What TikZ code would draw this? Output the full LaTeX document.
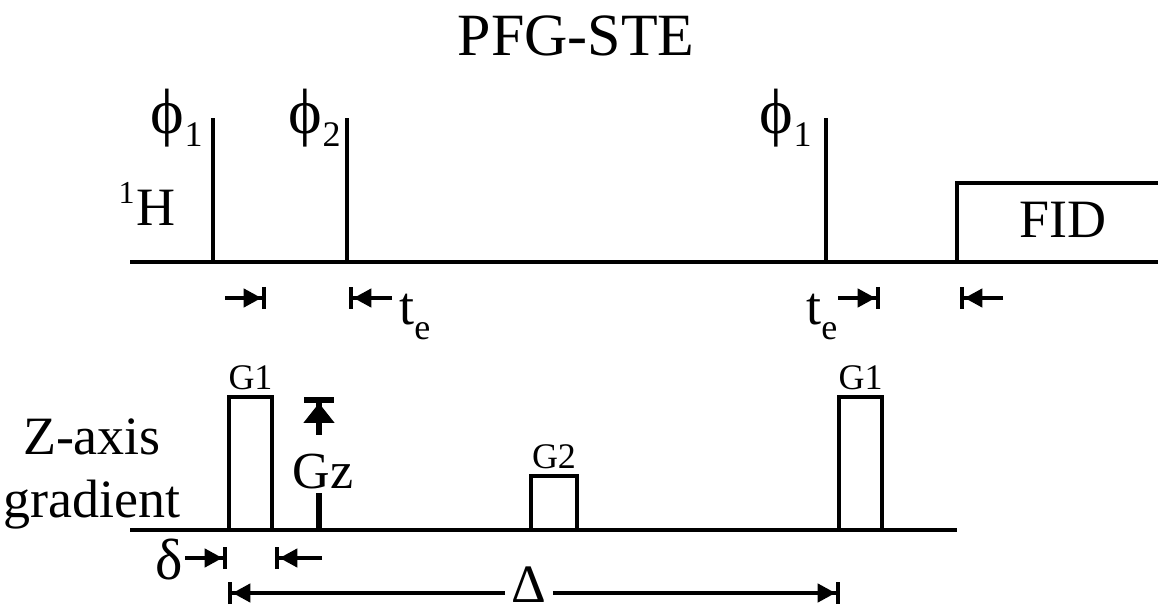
\documentclass[tikz,border=0pt]{standalone}
\usepackage{fontspec}
\setmainfont{Liberation Serif}
\usetikzlibrary{arrows.meta, positioning}

% phase label and echo time label
\newcommand{\phlab}[1]{{\fontsize{32}{32}\selectfont ϕ}\raisebox{-6.5pt}{\fontsize{18}{18}\selectfont #1}}
\newcommand{\telab}{t\raisebox{-7.5pt}{\fontsize{18}{18}\selectfont e}}

\begin{document}
\begin{tikzpicture}[x=0.5pt, y=-0.5pt,
    axisline/.style={line width=2pt},
    pulse/.style={line width=1.6pt},
    delay/.style={line width=2.2pt, -{Triangle[length=9pt,width=9pt,sep=0pt]Bar[width=11pt]}},
    biglbl/.style={font=\fontsize{27}{31.5}\selectfont, inner sep=0pt},
    glbl/.style={font=\fontsize{18}{20}\selectfont, inner sep=0pt}]
    \useasboundingbox (0,0) rectangle (1158,609);

    \node[font=\fontsize{30}{34}\selectfont, inner sep=0pt] (title) at (576,36) {PFG-STE};

    % 1H channel
    \coordinate (hL) at (130,262);
    \coordinate (hR) at (1158,262);
    \draw[axisline] (hL) -- (hR);
    \node[biglbl, anchor=base east] (hlab) at (176,226) {\raisebox{11pt}{\fontsize{16}{16}\selectfont 1}\kern1pt H};

    \foreach \x/\p/\n/\r in {213/1/a/203, 347/2/b/341, 826/1/c/812} {
        \draw[pulse] (\x,262) -- (\x,118);
        \node[biglbl, anchor=base east] (phi\n) at (\r,134) {\phlab{\p}};
    }

    % FID
    \draw[pulse] (957,262) |- (1158,183);
    \node[biglbl] (fid) at (1063,220) {FID};

    % delays
    \coordinate (dA) at (266,298);
    \coordinate (dB) at (349,298);
    \coordinate (dC) at (880,298);
    \coordinate (dD) at (960,298);
    \draw[delay] (225,298) -- (dA);
    \draw[delay] (392,298) -- (dB);
    \draw[delay] (838,298) -- (dC);
    \draw[delay] (1003,298) -- (dD);
    \node[biglbl, anchor=base west] (teA) at (399,325) {\telab};
    \node[biglbl, anchor=base west] (teB) at (806,325) {\telab};

    % gradient channel
    \coordinate (gL) at (130,530);
    \coordinate (gR) at (957,530);
    \draw[axisline] (gL) -- (gR);
    \node[biglbl, align=center, anchor=base] (zlab) at (92,517) {Z-axis\\gradient};

    \foreach \xa/\xb/\top/\lab/\n in {229/272/397/G1/a, 531/577/476/G2/b, 839/882/397/G1/c} {
        \draw[pulse] (\xa,530) |- (\xb,\top) -- (\xb,530);
        \node[glbl, anchor=base] (g\n) at ({(\xa+\xb)/2},\top-7) {\lab};
    }

    % Gz
    \coordinate (gzb) at (319,530);
    \coordinate (gzt) at (319,397);
    \node[font=\fontsize{26}{28}\selectfont, inner xsep=0pt, inner ysep=2.5pt,
          text height=24pt, text depth=0pt, anchor=base] (gz) at (323,488) {Gz};
    \draw[line width=3pt] (gzb) -- (gzb |- gz.south);
    \draw[line width=3pt, -{Triangle[length=10pt,width=15pt,sep=0pt]Bar[width=15pt]}]
        (gzt |- gz.north) -- (gzt);

    % delta
    \node[biglbl, font=\fontsize{29}{30}\selectfont, anchor=base east] (del) at (183,579) {δ};
    \coordinate (eA) at (227,558);
    \coordinate (eB) at (275,558);
    \draw[delay] (185,558) -- (eA);
    \draw[delay] (322,558) -- (eB);

    % Delta
    \coordinate (DL) at (228,593);
    \coordinate (DR) at (840,593);
    \node[biglbl, inner xsep=3pt, anchor=base] (Del) at (529,603) {Δ};
    \draw[delay] (DL -| Del.west) -- (DL);
    \draw[delay] (DR -| Del.east) -- (DR);
\end{tikzpicture}
\end{document}
